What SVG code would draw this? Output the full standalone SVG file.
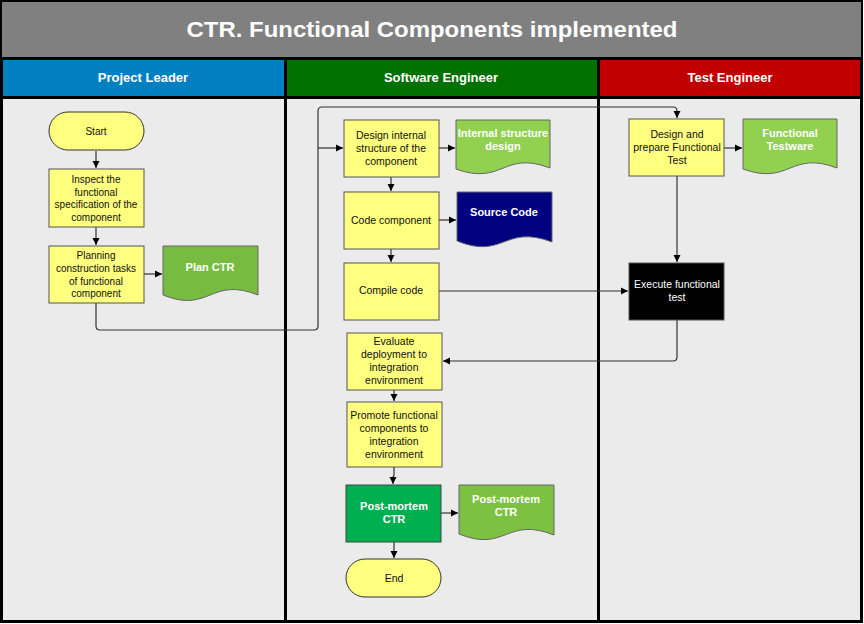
<svg xmlns="http://www.w3.org/2000/svg" width="864" height="624" viewBox="0 0 864 624">
<defs>
<marker id="ah" markerWidth="8" markerHeight="8" refX="7" refY="4" orient="auto" markerUnits="userSpaceOnUse">
<path d="M0,0.5 L7,4 L0,7.5 Z" fill="#000"/>
</marker>
<style>
.box{fill:#ffff80;stroke:#555;stroke-width:1}
.term{fill:#ffff80;stroke:#333;stroke-width:1}
.t{font-family:"Liberation Sans",Arial,sans-serif;font-size:10.5px;fill:#111;text-anchor:middle}
.pl{font-family:"Liberation Sans",Arial,sans-serif;font-size:10px;fill:#111;text-anchor:middle}
.w{font-family:"Liberation Sans",Arial,sans-serif;font-size:10.5px;fill:#fff;text-anchor:middle}
.wb{font-family:"Liberation Sans",Arial,sans-serif;font-size:11px;font-weight:bold;fill:#fff;text-anchor:middle}
.hd{font-family:"Liberation Sans",Arial,sans-serif;font-size:13px;font-weight:bold;fill:#fff;text-anchor:middle}
.c{fill:none;stroke:#333;stroke-width:1.2}
.doc{stroke:#666;stroke-width:1}
</style>
</defs>
<rect x="0" y="0" width="864" height="624" fill="#fff"/>
<rect x="0" y="0" width="863" height="623" fill="#000"/>
<rect x="2" y="2" width="859" height="55" fill="#808080"/>
<text x="432" y="37" font-family="Liberation Sans,Arial,sans-serif" font-size="22" font-weight="bold" fill="#fff" text-anchor="middle" textLength="491" lengthAdjust="spacingAndGlyphs">CTR. Functional Components implemented</text>
<g id="lanes">
<rect x="3" y="60" width="281" height="36" fill="#0080c0"/>
<rect x="287" y="60" width="310" height="36" fill="#007000"/>
<rect x="600" y="60" width="260" height="36" fill="#c00000"/>
<text class="hd" x="143" y="82">Project Leader</text>
<text class="hd" x="441" y="82">Software Engineer</text>
<text class="hd" x="730" y="82">Test Engineer</text>
<rect x="3" y="99" width="281" height="521" fill="#ebebeb"/>
<rect x="287" y="99" width="310" height="521" fill="#ebebeb"/>
<rect x="600" y="99" width="260" height="521" fill="#ebebeb"/>
</g>
<g id="connectors">
<path class="c" d="M96,151 V168" marker-end="url(#ah)"/>
<path class="c" d="M96,227 V245" marker-end="url(#ah)"/>
<path class="c" d="M144,274 H162" marker-end="url(#ah)"/>
<path class="c" d="M96,303 V326 Q96,330 100,330 H314 Q318,330 318,326 V111 Q318,107 322,107 H673 Q677,107 677,111 V118" marker-end="url(#ah)"/>
<path class="c" d="M318,148 H343" marker-end="url(#ah)"/>
<path class="c" d="M439,148 H455" marker-end="url(#ah)"/>
<path class="c" d="M391,177 V191" marker-end="url(#ah)"/>
<path class="c" d="M439,220 H456" marker-end="url(#ah)"/>
<path class="c" d="M391,249 V262" marker-end="url(#ah)"/>
<path class="c" d="M439,291 H628" marker-end="url(#ah)"/>
<path class="c" d="M724,148 H742" marker-end="url(#ah)"/>
<path class="c" d="M677,176 V262" marker-end="url(#ah)"/>
<path class="c" d="M677,320 V357 Q677,361 673,361 H443" marker-end="url(#ah)"/>
<path class="c" d="M394,390 V401" marker-end="url(#ah)"/>
<path class="c" d="M394,467 V475 L393,477 V484" marker-end="url(#ah)"/>
<path class="c" d="M441,513 H458" marker-end="url(#ah)"/>
<path class="c" d="M394,542 V558" marker-end="url(#ah)"/>
</g>
<g id="start">
<rect class="term" x="49" y="112" width="95" height="38" rx="19"/>
<text class="pl" x="96" y="135">Start</text>
</g>
<g id="inspect">
<rect class="box" x="49" y="169" width="95" height="58"/>
<text class="pl" x="96" y="183">Inspect the</text>
<text class="pl" x="96" y="195.5">functional</text>
<text class="pl" x="96" y="208">specification of the</text>
<text class="pl" x="96" y="220.5">component</text>
</g>
<g id="planning">
<rect class="box" x="49" y="246" width="95" height="57"/>
<text class="pl" x="96" y="259">Planning</text>
<text class="pl" x="96" y="271.5">construction tasks</text>
<text class="pl" x="96" y="284.5">of functional</text>
<text class="pl" x="96" y="297">component</text>
</g>
<g id="plan-ctr">
<path class="doc" fill="#77bc41" d="M163,246 H258 V295 C210,276 210,314 163,295 Z"/>
<text class="wb" x="210" y="271">Plan CTR</text>
</g>
<g id="design-internal">
<rect class="box" x="344" y="120" width="95" height="57"/>
<text class="t" x="391" y="139">Design internal</text>
<text class="t" x="391" y="152">structure of the</text>
<text class="t" x="391" y="165">component</text>
</g>
<g id="internal-structure-design">
<path class="doc" fill="#92d050" d="M456,120 H550 V168 C503,150 503,186 456,169 Z"/>
<text class="wb" x="503" y="137">Internal structure</text>
<text class="wb" x="503" y="150">design</text>
</g>
<g id="code-component">
<rect class="box" x="344" y="192" width="95" height="57"/>
<text class="t" x="391" y="224">Code component</text>
</g>
<g id="source-code">
<path class="doc" fill="#000080" d="M457,192 H552 V242 C504,224 504,260 457,241 Z"/>
<text class="wb" x="504" y="216">Source Code</text>
</g>
<g id="compile-code">
<rect class="box" x="344" y="263" width="95" height="57"/>
<text class="t" x="391" y="294">Compile code</text>
</g>
<g id="design-prepare-test">
<rect class="box" x="629" y="119" width="95" height="57"/>
<text class="t" x="677" y="138">Design and</text>
<text class="t" x="677" y="151">prepare Functional</text>
<text class="t" x="677" y="163.5">Test</text>
</g>
<g id="functional-testware">
<path class="doc" fill="#92d050" d="M743,119 H837 V168 C790,150 790,186 743,169 Z"/>
<text class="wb" x="790" y="137">Functional</text>
<text class="wb" x="790" y="150">Testware</text>
</g>
<g id="execute-test">
<rect x="629" y="263" width="95" height="57" fill="#000" stroke="#555" stroke-width="1"/>
<text class="w" x="677" y="288">Execute functional</text>
<text class="w" x="677" y="301">test</text>
</g>
<g id="evaluate">
<rect class="box" x="347" y="333" width="95" height="57"/>
<text class="t" x="394" y="345">Evaluate</text>
<text class="t" x="394" y="358">deployment to</text>
<text class="t" x="394" y="371">integration</text>
<text class="t" x="394" y="384">environment</text>
</g>
<g id="promote">
<rect class="box" x="347" y="402" width="95" height="65"/>
<text class="t" x="394" y="419">Promote functional</text>
<text class="t" x="394" y="432">components to</text>
<text class="t" x="394" y="445">integration</text>
<text class="t" x="394" y="458">environment</text>
</g>
<g id="post-mortem">
<rect x="346" y="485" width="95" height="57" fill="#00b050" stroke="#444" stroke-width="1"/>
<text class="wb" x="394" y="510">Post-mortem</text>
<text class="wb" x="394" y="523">CTR</text>
</g>
<g id="post-mortem-doc">
<path class="doc" fill="#7cc142" d="M459,485 H554 V535 C506,516 506,553 459,534 Z"/>
<text class="wb" x="506" y="503">Post-mortem</text>
<text class="wb" x="506" y="516">CTR</text>
</g>
<g id="end">
<rect class="term" x="346" y="559" width="95" height="38" rx="19"/>
<text class="t" x="394" y="582">End</text>
</g>
</svg>
